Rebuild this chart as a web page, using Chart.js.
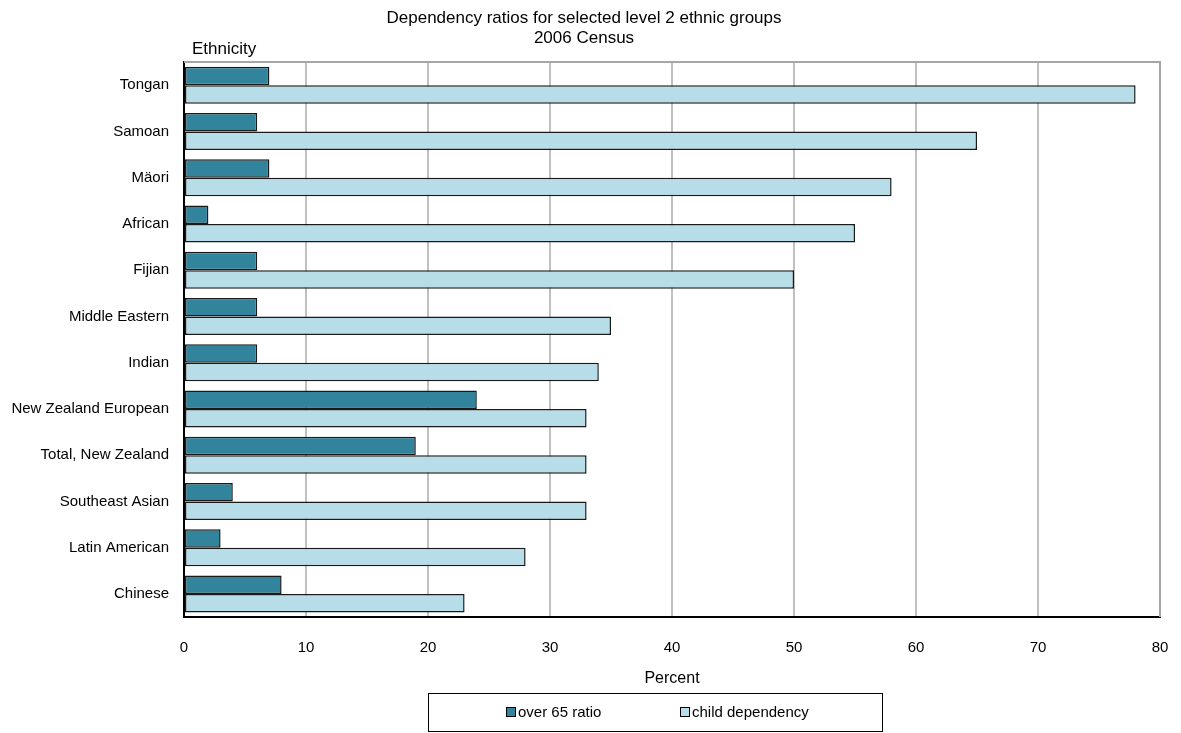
<!DOCTYPE html>
<html>
<head>
<meta charset="utf-8">
<script src="https://cdn.jsdelivr.net/npm/chart.js@4.4.1/dist/chart.umd.min.js"></script>
<style>
  html, body { margin: 0; padding: 0; background: #fff; }
  #wrap { width: 1181px; height: 733px; position: relative; }
</style>
</head>
<body>
<div id="wrap"><canvas id="chart"></canvas></div>
<script>
// Data
const ethnicGroups = ['Tongan', 'Samoan', 'Mäori', 'African', 'Fijian', 'Middle Eastern', 'Indian',
    'New Zealand European', 'Total, New Zealand', 'Southeast Asian', 'Latin American', 'Chinese'];
const over65Ratio = [7, 6, 7, 2, 6, 6, 6, 24, 19, 4, 3, 8];
const childDependency = [78, 65, 58, 55, 50, 35, 34, 33, 33, 33, 28, 23];
const xTicks = [0, 10, 20, 30, 40, 50, 60, 70, 80];

const FONT = 'Arial, "Liberation Sans", sans-serif';

// Draws the "Ethnicity" heading, the gray frame and the boxed legend
const extras = {
    id: 'extras',
    afterDraw(chart) {
        const ctx = chart.ctx;
        const a = chart.chartArea;
        ctx.save();

        // gray top/right border of plot
        ctx.strokeStyle = '#a6a6a6';
        ctx.lineWidth = 2;
        ctx.beginPath();
        ctx.moveTo(a.left, a.top);
        ctx.lineTo(a.right, a.top);
        ctx.lineTo(a.right, a.bottom);
        ctx.stroke();

        ctx.fillStyle = '#000';
        ctx.font = '17px ' + FONT;
        ctx.textBaseline = 'middle';
        ctx.textAlign = 'left';
        ctx.fillText('Ethnicity', 192, 49);

        // legend box
        ctx.strokeStyle = '#000';
        ctx.lineWidth = 1;
        ctx.strokeRect(428.5, 693.5, 454, 38);
        const items = [
            { x: 506, ds: chart.data.datasets[0] },
            { x: 680, ds: chart.data.datasets[1] }
        ];
        items.forEach(it => {
            ctx.fillStyle = it.ds.backgroundColor;
            ctx.fillRect(it.x, 707, 10, 10);
            ctx.strokeStyle = '#000';
            ctx.strokeRect(it.x + 0.5, 707.5, 9, 9);
            ctx.fillStyle = '#000';
            ctx.font = '15px ' + FONT;
            ctx.fillText(it.ds.label, it.x + 12, 713);
        });
        ctx.restore();
    }
};

new Chart(document.getElementById('chart'), {
    type: 'bar',
    data: {
        labels: ethnicGroups,
        datasets: [
            {
                label: 'over 65 ratio',
                data: over65Ratio,
                backgroundColor: '#31849b',
                borderColor: '#1a1a1a',
                borderWidth: 1.5,
                borderSkipped: false
            },
            {
                label: 'child dependency',
                data: childDependency,
                backgroundColor: '#b7dee8',
                borderColor: '#1a1a1a',
                borderWidth: 1.5,
                borderSkipped: false
            }
        ]
    },
    options: {
        indexAxis: 'y',
        responsive: true,
        maintainAspectRatio: false,
        animation: false,
        categoryPercentage: 0.8,
        barPercentage: 1.0,
        layout: { padding: { left: 8, right: 21, top: 6, bottom: 41 } },
        plugins: {
            legend: { display: false },
            tooltip: { enabled: false },
            title: {
                display: true,
                text: ['Dependency ratios for selected level 2 ethnic groups', '2006 Census'],
                color: '#000',
                font: { family: FONT, size: 17, weight: 'normal', lineHeight: 1.18 },
                padding: { top: 2, bottom: 14 }
            }
        },
        scales: {
            x: {
                min: 0,
                max: 80,
                afterBuildTicks(scale) {
                    scale.ticks = xTicks.map(v => ({ value: v }));
                },
                afterFit(scale) {
                    scale.height = 75;
                    scale.paddingLeft = 0;
                    scale.paddingRight = 0;
                },
                grid: { color: '#c0c0c0', lineWidth: 2, drawTicks: false },
                border: { color: '#000', width: 2 },
                ticks: { color: '#000', padding: 22, font: { family: FONT, size: 15 } },
                title: {
                    display: true,
                    text: 'Percent',
                    color: '#000',
                    font: { family: FONT, size: 16 },
                    padding: { top: 4, bottom: 4 }
                }
            },
            y: {
                grid: { display: false, drawTicks: false },
                border: { color: '#000', width: 2 },
                afterFit(scale) { scale.width = 176; },
                ticks: { color: '#000', padding: 15, font: { family: FONT, size: 15 } }
            }
        }
    },
    plugins: [extras]
});
</script>
</body>
</html>
